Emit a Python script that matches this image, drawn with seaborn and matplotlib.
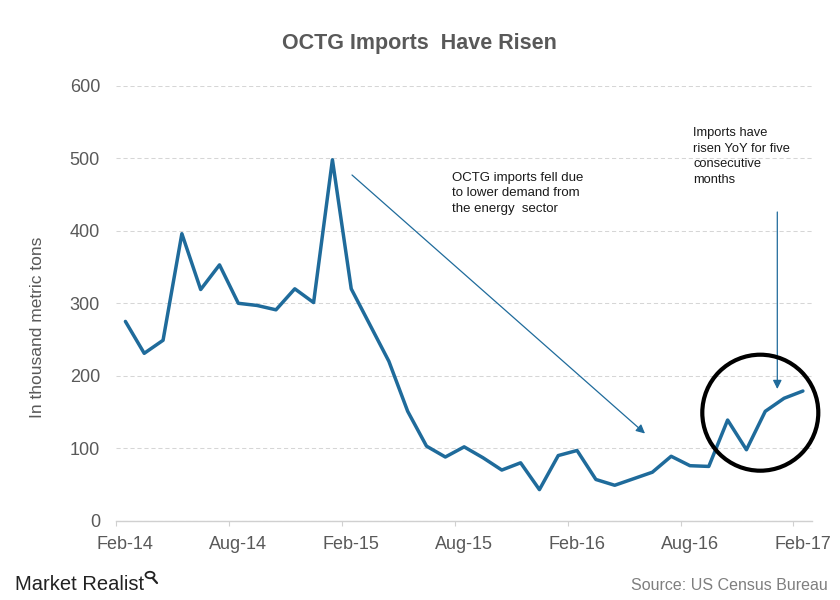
import matplotlib
matplotlib.use("Agg")
import numpy as np
import pandas as pd
import seaborn as sns
import matplotlib.pyplot as plt
from matplotlib.patches import Ellipse, Circle
from matplotlib.lines import Line2D

# ---- data (thousand metric tons, monthly Feb-14 .. Feb-17) ----
months = ["Feb-14", "Mar-14", "Apr-14", "May-14", "Jun-14", "Jul-14", "Aug-14",
          "Sep-14", "Oct-14", "Nov-14", "Dec-14", "Jan-15", "Feb-15", "Mar-15",
          "Apr-15", "May-15", "Jun-15", "Jul-15", "Aug-15", "Sep-15", "Oct-15",
          "Nov-15", "Dec-15", "Jan-16", "Feb-16", "Mar-16", "Apr-16", "May-16",
          "Jun-16", "Jul-16", "Aug-16", "Sep-16", "Oct-16", "Nov-16", "Dec-16",
          "Jan-17", "Feb-17"]
imports = [275, 231, 249, 396, 319, 353, 300, 297, 291, 320, 301, 498, 320, 270,
           220, 151, 103, 88, 102, 87, 70, 80, 43, 90, 97, 57, 49, 58,
           67, 89, 76, 75, 139, 98, 151, 169, 179]
tick_labels = ["Feb-14", "Aug-14", "Feb-15", "Aug-15", "Feb-16", "Aug-16", "Feb-17"]
y_ticks = [0, 100, 200, 300, 400, 500, 600]

title = "OCTG Imports  Have Risen"
y_label = "In thousand metric tons"
note_fall = "OCTG imports fell due\nto lower demand from\nthe energy  sector"
note_rise = "Imports have\nrisen YoY for five\nconsecutive\nmonths"
source = "Source: US Census Bureau"
brand = "Market Realist"

LINE = "#1f6b9b"
GREY = "#595959"

sns.set_theme(style="white")
plt.rcParams["font.family"] = ["Liberation Sans", "DejaVu Sans"]

W, H = 840, 600
fig = plt.figure(figsize=(W / 100, H / 100), dpi=100)
fig.patch.set_facecolor("white")

def fx(px):
    return px / W

def fy(py):
    return 1 - py / H

left, right, top, bottom = 116, 812.3, 85.8, 520.8
ax = fig.add_axes([fx(left), fy(bottom), (right - left) / W, (bottom - top) / H])

df = pd.DataFrame({"idx": np.arange(len(months)), "month": months, "imports": imports})
sns.lineplot(data=df, x="idx", y="imports", ax=ax, color=LINE, linewidth=2.5)

ax.set_xlim(-0.5, len(months) - 0.5)
ax.set_ylim(0, 600)
ax.set_xlabel("")
ax.set_ylabel("")

# x ticks: labels at category centres, tick marks at category boundaries
label_pos = [months.index(t) for t in tick_labels]
ax.set_xticks(label_pos)
ax.set_xticklabels(tick_labels)
ax.set_xticks([p - 0.5 for p in label_pos], minor=True)
ax.tick_params(axis="x", which="major", length=0, pad=11, labelsize=13, labelcolor=GREY)
ax.tick_params(axis="x", which="minor", length=3.6, width=0.8, color="#d0d0d0", direction="out", bottom=True)

ax.set_yticks(y_ticks)
ax.set_yticklabels([str(v) for v in y_ticks])
ax.tick_params(axis="y", length=0, pad=11.5, labelsize=13, labelcolor=GREY)

for s in ["left", "right", "top"]:
    ax.spines[s].set_visible(False)
ax.spines["bottom"].set_color("#d0d0d0")
ax.spines["bottom"].set_linewidth(1)

ax.yaxis.grid(True, linestyle=(0, (4, 2.7)), color="#d6d6d6", linewidth=0.75)
ax.xaxis.grid(False)
ax.set_axisbelow(True)

# title and labels
fig.text(fx(419), fy(44), title, ha="center", va="center", fontsize=15.5,
         fontweight="bold", color=GREY)
fig.text(fx(37.5), fy(327.5), y_label, rotation=90, ha="center", va="center",
         fontsize=12.5, color=GREY)

# annotations
fig.text(fx(451.7), fy(171.5), note_fall, ha="left", va="top", fontsize=9.5,
         color="#1a1a1a", linespacing=1.42)
fig.text(fx(693.3), fy(127), note_rise, ha="left", va="top", fontsize=9.3,
         color="#1a1a1a", linespacing=1.4)

ax.annotate("", xy=(fx(645), fy(433.5)), xycoords="figure fraction",
            xytext=(fx(352), fy(175)), textcoords="figure fraction",
            arrowprops=dict(arrowstyle="-|>", color=LINE, lw=0.9, mutation_scale=13,
                            shrinkA=0, shrinkB=0))
ax.annotate("", xy=(fx(777.3), fy(389)), xycoords="figure fraction",
            xytext=(fx(777.3), fy(212)), textcoords="figure fraction",
            arrowprops=dict(arrowstyle="-|>", color=LINE, lw=0.9, mutation_scale=13,
                            shrinkA=0, shrinkB=0))

# highlight circle
circ = Ellipse((fx(760.3), fy(412.7)), width=116 / W, height=116 / H,
               transform=fig.transFigure, fill=False, edgecolor="black", linewidth=3.0)
fig.add_artist(circ)

# footer
fig.text(fx(828), fy(585), source, ha="right", va="center", fontsize=11.5, color="#7f7f7f")
fig.text(fx(15), fy(585), brand, ha="left", va="center", fontsize=14.5, color="#222222")
mag = Circle((fx(150), fy(575)), radius=4.5 / W, transform=fig.transFigure,
             fill=False, edgecolor="#222222", linewidth=1.3)
fig.add_artist(mag)
fig.add_artist(Line2D([fx(153), fx(157)], [fy(578.5), fy(583)], transform=fig.transFigure,
                      color="#222222", linewidth=1.6))

fig.savefig("out.png", dpi=100, facecolor="white")
